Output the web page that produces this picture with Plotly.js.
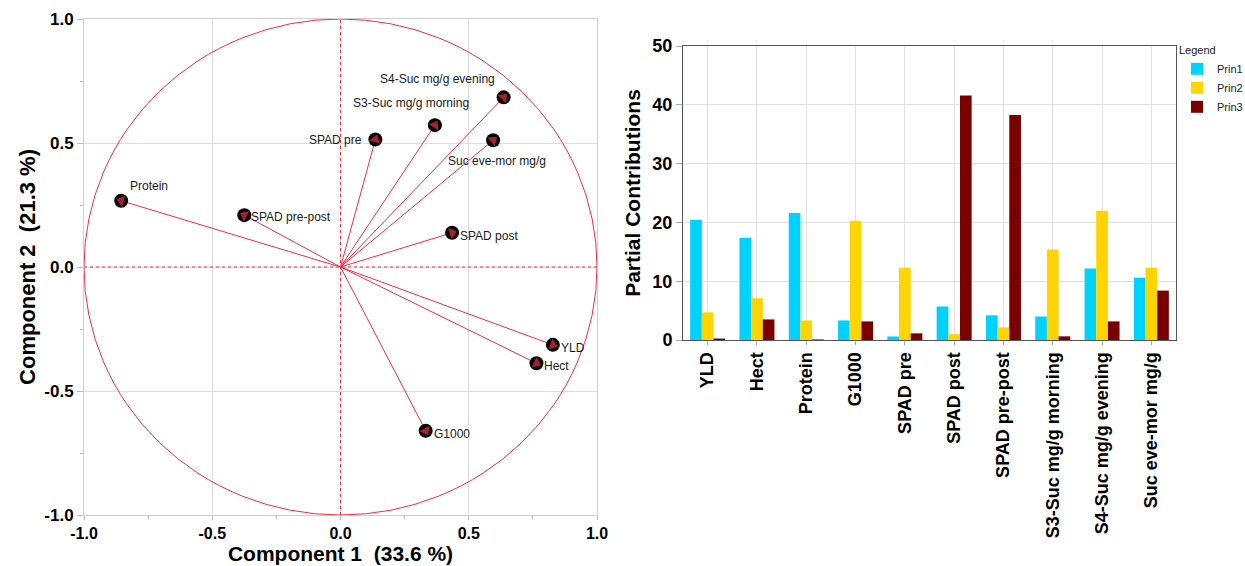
<!DOCTYPE html>
<html><head><meta charset="utf-8">
<script src="https://cdn.plot.ly/plotly-3.0.1.min.js"></script>
<style>html,body{margin:0;padding:0;background:#fff;overflow:hidden;width:1245px;height:566px}#chart{width:1245px;height:566px;display:block}</style>
</head><body><div id="chart"></div>
<script>
// ---- PCA loadings (Component 1, Component 2) ----
const variables = ["Protein","SPAD pre-post","SPAD pre","S3-Suc mg/g morning","S4-Suc mg/g evening","Suc eve-mor mg/g","SPAD post","YLD","Hect","G1000"];
const comp1 = [-0.855, -0.375, 0.136, 0.368, 0.636, 0.595, 0.435, 0.828, 0.764, 0.332];
const comp2 = [0.267, 0.209, 0.514, 0.572, 0.684, 0.511, 0.138, -0.314, -0.388, -0.660];

// ---- Partial contributions ----
const categories = ["YLD","Hect","Protein","G1000","SPAD pre","SPAD post","SPAD pre-post","S3-Suc mg/g morning","S4-Suc mg/g evening","Suc eve-mor mg/g"];
const prin1 = [20.45, 17.4, 21.6, 3.33, 0.6, 5.7, 4.2, 4.0, 12.15, 10.6];
const prin2 = [4.7, 7.1, 3.33, 20.3, 12.3, 1.0, 2.15, 15.4, 22.0, 12.3];
const prin3 = [0.25, 3.5, 0.1, 3.16, 1.13, 41.6, 38.25, 0.62, 3.16, 8.4];

const axisTicks = [-1, -0.5, 0, 0.5, 1];
const axisTickText = ["-1.0", "-0.5", "0.0", "0.5", "1.0"];

// label placement (pixel offsets, style only)
const labelPlace = {
  "Protein": {xa:"left", dx:7, dy:15},
  "SPAD pre-post": {xa:"left", dx:5, dy:-2},
  "SPAD pre": {xa:"right", dx:-11, dy:0},
  "S3-Suc mg/g morning": {xa:"center", dx:-24, dy:22},
  "S4-Suc mg/g evening": {xa:"center", dx:-66, dy:18},
  "Suc eve-mor mg/g": {xa:"center", dx:4, dy:-21},
  "SPAD post": {xa:"left", dx:6, dy:-3},
  "YLD": {xa:"left", dx:6, dy:-3},
  "Hect": {xa:"left", dx:6, dy:-3},
  "G1000": {xa:"left", dx:6, dy:-3}
};

const FONT = "Arial, 'Liberation Sans', sans-serif";
const RED = "#ee2f45";
const W = 1245, H = 566;
const px = v => v / W, py = v => (H - v) / H;

const traces = [];
// vectors
variables.forEach((v, i) => {
  traces.push({
    x: [0, comp1[i]], y: [0, comp2[i]], xaxis: "x", yaxis: "y",
    type: "scatter", mode: "lines", line: {color: RED, width: 1},
    hoverinfo: "skip", showlegend: false
  });
});
// black circles
traces.push({
  x: comp1, y: comp2, xaxis: "x", yaxis: "y", type: "scatter", mode: "markers",
  marker: {symbol: "circle", size: 14, color: "#000"}, showlegend: false, text: variables
});
// red arrow heads
variables.forEach((v, i) => {
  traces.push({
    x: [0, comp1[i]], y: [0, comp2[i]], xaxis: "x", yaxis: "y",
    type: "scatter", mode: "markers",
    marker: {symbol: "triangle-up", size: [0, 10], color: RED, angleref: "previous", line: {width: 0}},
    hoverinfo: "skip", showlegend: false
  });
});

// bars
const barColors = ["#00d2ff", "#ffd400", "#7a0000"];
[["Prin1", prin1], ["Prin2", prin2], ["Prin3", prin3]].forEach(([name, vals], k) => {
  traces.push({
    x: categories, y: vals, name: name, type: "bar", xaxis: "x2", yaxis: "y2",
    marker: {color: barColors[k], line: {width: 0}}
  });
});

const annotations = variables.map((v, i) => ({
  x: comp1[i], y: comp2[i], xref: "x", yref: "y", text: v, showarrow: false,
  xanchor: labelPlace[v].xa, yanchor: "middle",
  xshift: labelPlace[v].dx, yshift: labelPlace[v].dy,
  font: {family: FONT, size: 12, color: "#1a1a1a"}
}));

const layout = {
  width: W, height: H, margin: {l: 0, r: 0, t: 0, b: 0, autoexpand: false},
  paper_bgcolor: "#fff", plot_bgcolor: "#fff",
  font: {family: FONT, color: "#000"},
  showlegend: true,
  legend: {
    x: px(1177), y: py(40), xanchor: "left", yanchor: "top",
    title: {text: "Legend", font: {size: 11, color: "#222", family: FONT}},
    font: {size: 11, color: "#222", family: FONT},
    tracegroupgap: 0, itemwidth: 30, bgcolor: "rgba(0,0,0,0)"
  },
  bargap: 0.29, bargroupgap: 0, barmode: "group",
  xaxis: {
    domain: [px(84), px(597)], range: [-1, 1], anchor: "y",
    tickvals: axisTicks, ticktext: axisTickText,
    tickfont: {size: 16, family: FONT, color: "#000", weight: "bold"},
    showgrid: true, gridcolor: "#dcdcdc", zeroline: false,
    showline: true, linecolor: "#cfcfcf", mirror: true,
    ticks: "outside", ticklen: 4, tickcolor: "#bbb",
    minor: {ticks: "outside", ticklen: 3, tickcolor: "#bbb", dtick: 0.25, showgrid: false},
    title: {text: "Component 1  (33.6 %)", font: {size: 21, family: FONT, color: "#000", weight: "bold"}, standoff: 5}
  },
  yaxis: {
    domain: [py(515), py(19)], range: [-1, 1], anchor: "x",
    tickvals: axisTicks, ticktext: axisTickText,
    tickfont: {size: 17, family: FONT, color: "#000", weight: "bold"},
    showgrid: true, gridcolor: "#dcdcdc", zeroline: false,
    showline: true, linecolor: "#cfcfcf", mirror: true,
    ticks: "outside", ticklen: 6, tickcolor: "#bbb",
    minor: {ticks: "outside", ticklen: 3, tickcolor: "#bbb", dtick: 0.25, showgrid: false},
    title: {text: "Component 2  (21.3 %)", font: {size: 22, family: FONT, color: "#000", weight: "bold"}, standoff: 2}
  },
  xaxis2: {
    domain: [px(683), px(1176)], anchor: "y2", type: "category", range: [-0.5, 9.5],
    tickangle: -90, tickfont: {size: 18, family: FONT, color: "#000", weight: "bold"},
    showgrid: true, gridcolor: "#e2e2e2", zeroline: false,
    showline: true, linecolor: "#555", mirror: true,
    ticks: "outside", ticklen: 4, tickcolor: "#aaa"
  },
  yaxis2: {
    domain: [py(340), py(46)], anchor: "x2", range: [0, 50], dtick: 10,
    tickfont: {size: 18, family: FONT, color: "#000", weight: "bold"},
    showgrid: true, gridcolor: "#e2e2e2", zeroline: false,
    showline: true, linecolor: "#555", mirror: true,
    ticks: "outside", ticklen: 6, tickcolor: "#aaa",
    title: {text: "Partial Contributions", font: {size: 21, family: FONT, color: "#000", weight: "bold"}, standoff: 6}
  },
  shapes: [
    {type: "circle", xref: "x", yref: "y", x0: -1, y0: -1, x1: 1, y1: 1, line: {color: RED, width: 1}, layer: "above"},
    {type: "line", xref: "x", yref: "y", x0: 0, x1: 0, y0: -1, y1: 1, line: {color: RED, width: 1, dash: "dot"}},
    {type: "line", xref: "x", yref: "y", x0: -1, x1: 1, y0: 0, y1: 0, line: {color: RED, width: 1, dash: "dot"}}
  ],
  annotations: annotations
};

Plotly.newPlot("chart", traces, layout, {displayModeBar: false, staticPlot: true});
</script></body></html>
